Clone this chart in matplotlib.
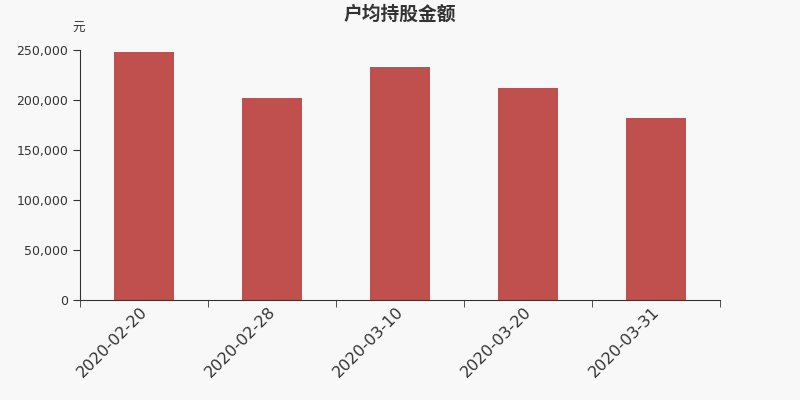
import matplotlib.pyplot as plt
import numpy as np
from matplotlib.ticker import FuncFormatter

plt.rcParams['font.family'] = ['Noto Sans CJK SC', 'DejaVu Sans']

dates = ['2020-02-20', '2020-02-28', '2020-03-10', '2020-03-20', '2020-03-31']
values = [248500, 201700, 232700, 212500, 182500]

bg = '#f8f8f8'
txt = '#333333'

fig = plt.figure(figsize=(8, 4), dpi=100, facecolor=bg)
ax = fig.add_axes([0.1, 0.25, 0.8, 0.625], facecolor=bg)

ind = np.arange(len(dates))
ax.bar(ind, values, 0.47, color='#c0504d')
ax.set_xlim(-0.5, len(dates) - 0.5)
ax.set_ylim(0, 250000)
ax.set_yticks(np.arange(0, 250001, 50000))
ax.yaxis.set_major_formatter(FuncFormatter(lambda v, p: '{:,.0f}'.format(v)))

# labels sit a touch left of the bar centre in the original
ax.set_xticks(ind - 0.03)
ax.set_xticklabels(dates, rotation=45, ha='right', rotation_mode='anchor',
                   fontsize=11.5, color=txt, family='DejaVu Sans')
ax.set_xticks(np.arange(-0.5, len(dates), 1), minor=True)
ax.tick_params(axis='x', which='major', length=0, pad=3)
ax.tick_params(axis='x', which='minor', length=5, color=txt)
ax.tick_params(axis='y', length=5, color=txt, labelsize=9, labelcolor=txt)
for lbl in ax.get_yticklabels():
    lbl.set_family('DejaVu Sans')

for s in ['top', 'right']:
    ax.spines[s].set_visible(False)
for s in ['left', 'bottom']:
    ax.spines[s].set_color(txt)

fig.text(0.5, 0.965, '户均持股金额', ha='center', va='center',
         fontsize=13.5, fontweight='bold', color=txt)
fig.text(0.098, 0.93, '元', ha='center', va='center', fontsize=9, color=txt)

plt.savefig('out.png', facecolor=bg)
